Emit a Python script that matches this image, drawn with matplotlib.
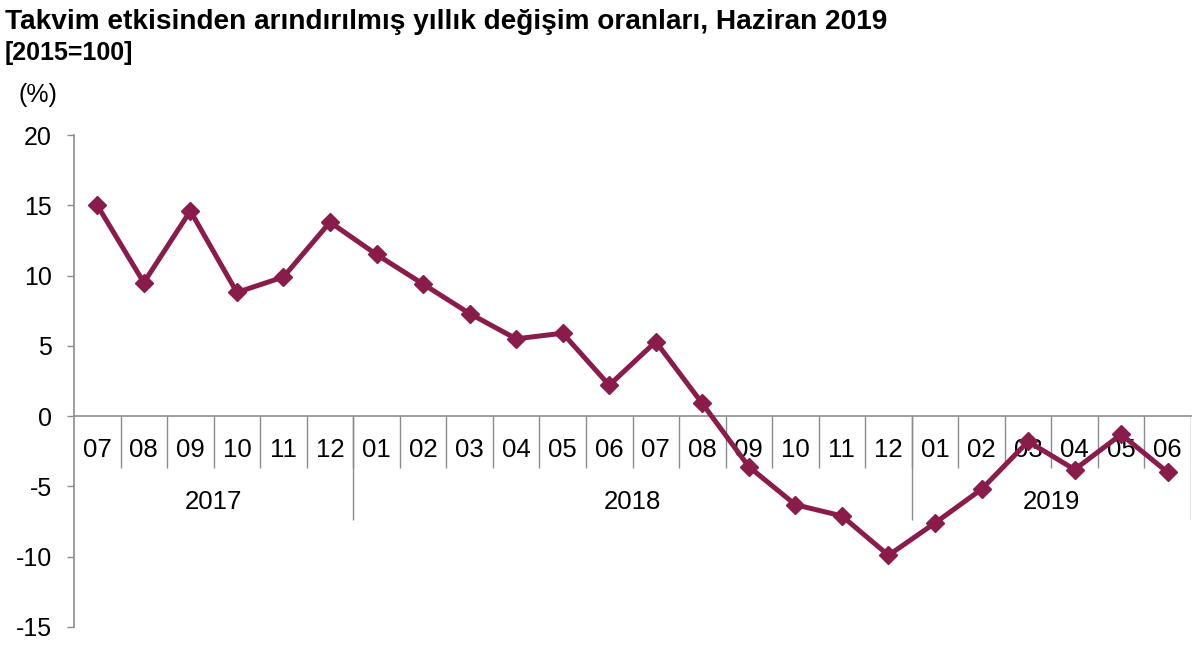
import matplotlib
matplotlib.use("Agg")
import matplotlib.pyplot as plt

plt.rcParams['font.family'] = ['Liberation Sans', 'DejaVu Sans']

months = ["07", "08", "09", "10", "11", "12",
          "01", "02", "03", "04", "05", "06", "07", "08", "09", "10", "11", "12",
          "01", "02", "03", "04", "05", "06"]
years = ["2017", "2018", "2019"]
year_counts = [6, 12, 6]
values = [15.0, 9.5, 14.6, 8.8, 9.9, 13.8,
          11.5, 9.4, 7.3, 5.5, 5.9, 2.2, 5.3, 0.9, -3.6, -6.3, -7.1, -9.9,
          -7.6, -5.2, -1.8, -3.8, -1.3, -4.0]
yticks = [-15, -10, -5, 0, 5, 10, 15, 20]

title = "Takvim etkisinden arındırılmış yıllık değişim oranları, Haziran 2019"
subtitle = "[2015=100]"
unit = "(%)"

line_color = "#8A1C4C"
axis_color = "#8C8C8C"

fig = plt.figure(figsize=(12, 6.46), dpi=100)
ax = fig.add_axes([74/1200, 1 - 627/646, (1191-74)/1200, (627-135)/646])

n = len(months)
x = list(range(n))
ax.plot(x, values, color=line_color, lw=3.6, marker='D', markersize=9.5,
        markerfacecolor=line_color, markeredgecolor=line_color, zorder=5)

ax.set_xlim(-0.5, n - 0.5)
ax.set_ylim(-15, 20)
ax.set_yticks(yticks)
ax.set_yticklabels([str(v) for v in yticks], fontsize=18)
ax.tick_params(axis='y', direction='out', length=5, width=1, color=axis_color, pad=11)

for s in ['top', 'right']:
    ax.spines[s].set_visible(False)
ax.spines['left'].set_color(axis_color)
ax.spines['left'].set_linewidth(1.2)
ax.spines['bottom'].set_position(('data', 0))
ax.spines['bottom'].set_color(axis_color)
ax.spines['bottom'].set_linewidth(1.2)

ax.set_xticks(x)
ax.set_xticklabels(months, fontsize=18.5)
ax.tick_params(axis='x', length=0, pad=16)

# category separators
sep_len = 3.7
ax.vlines([i + 0.5 for i in range(n - 1)], -sep_len, 0, color=axis_color, lw=1)
# year separators and labels
start = 0
bounds = [-0.5]
for cnt in year_counts:
    start += cnt
    bounds.append(start - 0.5)
ax.vlines(bounds[1:], -7.4, 0, color=axis_color, lw=1)
for i, yr in enumerate(years):
    cx = (bounds[i] + bounds[i + 1]) / 2
    ax.text(cx, -6.1, yr, ha='center', va='center', fontsize=18.5)

fig.text(5/1200, 1 - 22/646, title, fontsize=20.2, fontweight='bold', ha='left', va='center')
fig.text(5/1200, 1 - 53/646, subtitle, fontsize=18, fontweight='bold', ha='left', va='center')
fig.text(19/1200, 1 - 95/646, unit, fontsize=18, ha='left', va='center')

fig.savefig("out.png", dpi=100, facecolor='white')
